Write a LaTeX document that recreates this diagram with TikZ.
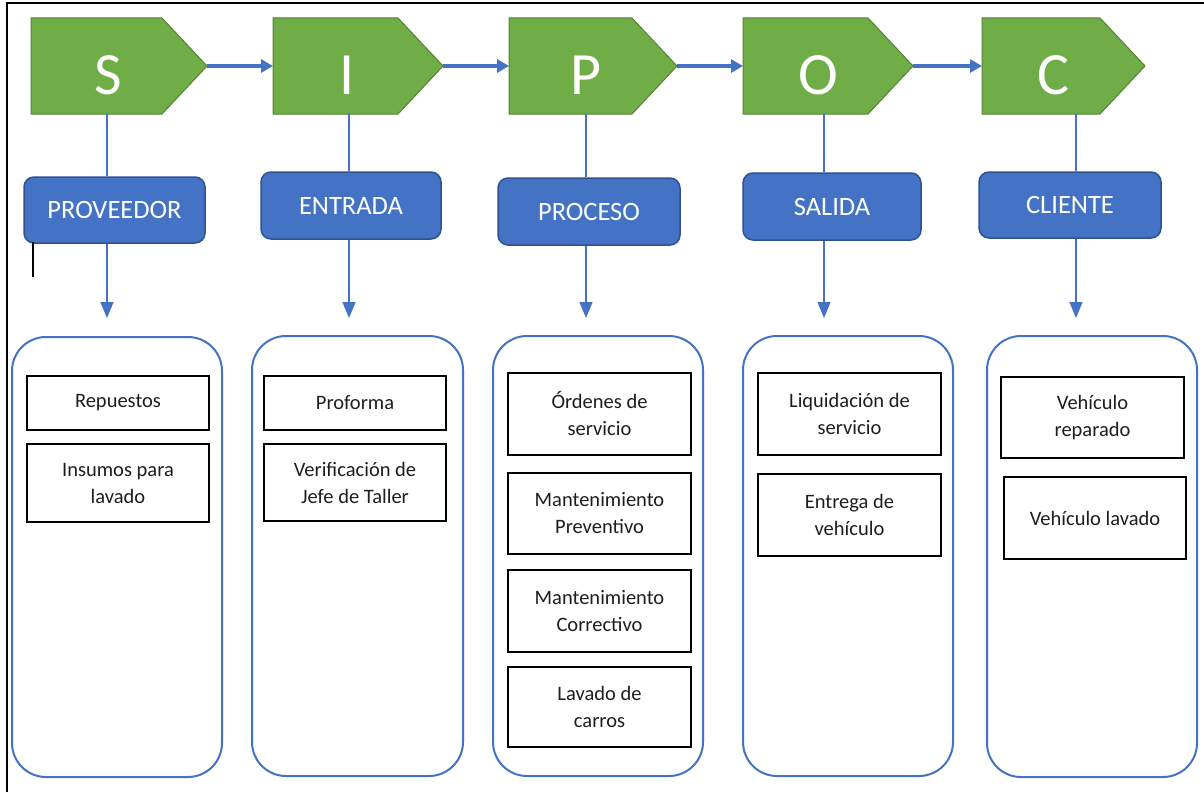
\documentclass[tikz,border=0pt]{standalone}
\usepackage{fontspec}
\setmainfont{Carlito}
\usetikzlibrary{arrows.meta}
\definecolor{sgreen}{HTML}{70AD47}
\definecolor{sgreendark}{HTML}{548235}
\definecolor{sblue}{HTML}{4472C4}
\definecolor{sbluedark}{HTML}{2F528F}
\definecolor{stext}{HTML}{1E1E1E}
\tikzset{
  letterbox/.style={fill=sgreen, draw=sgreendark, line width=1pt},
  bigletter/.style={text=white, font=\fontsize{60}{60}\selectfont, anchor=base, inner sep=0pt},
  rolebox/.style={fill=sblue, draw=sbluedark, line width=1.5pt, rounded corners=10pt,
    text=white, font=\fontsize{26.5}{30}\selectfont, text height=17pt, text depth=0pt, inner sep=0pt},
  lane/.style={draw=sblue, line width=2pt, rounded corners=34pt, inner sep=0pt},
  itembox/.style={draw=black, line width=2.5pt, text=stext, font=\fontsize{20.5}{27}\selectfont,
    align=center, inner sep=0pt},
  flow/.style={draw=sblue, line width=3.2pt, -{Triangle[length=12pt,width=13pt]}},
  link/.style={draw=sblue, line width=1.2pt},
  drop/.style={draw=sblue, line width=1.2pt, -{Triangle[length=16pt,width=13pt]}},
}
\begin{document}
\begin{tikzpicture}[x=1pt,y=-1pt]
\useasboundingbox (0,0) rectangle (1204,792);
\fill[white] (0,0) rectangle (1204,792);
% frame lines
\draw[line width=1.5pt] (7,792) -- (7,3) -- (1204,3);

% SIPOC header shapes
\draw[letterbox] (31,18) -- (162,18) -- (207,66) -- (162,114) -- (31,114) -- cycle;
\draw[letterbox] (273,18) -- (398,18) -- (443,66) -- (398,114) -- (273,114) -- cycle;
\draw[letterbox] (509,18) -- (632,18) -- (677,66) -- (632,114) -- (509,114) -- cycle;
\draw[letterbox] (743,18) -- (868,18) -- (913,66) -- (868,114) -- (743,114) -- cycle;
\draw[letterbox] (982,18) -- (1100,18) -- (1145,66) -- (1100,114) -- (982,114) -- cycle;
\node[bigletter] (ls) at (108,94) {S};
\node[bigletter] (li) at (347,94) {I};
\node[bigletter] (lp) at (586,94) {P};
\node[bigletter] (lo) at (818,94) {O};
\node[bigletter] (lc) at (1053,94) {C};
\coordinate (tipS) at (207,66); \coordinate (inI) at (273,66);
\coordinate (tipI) at (443,66); \coordinate (inP) at (509,66);
\coordinate (tipP) at (677,66); \coordinate (inO) at (743,66);
\coordinate (tipO) at (913,66); \coordinate (inC) at (982,66);
\draw[flow] (tipS) -- (inI);
\draw[flow] (tipI) -- (inP);
\draw[flow] (tipP) -- (inO);
\draw[flow] (tipO) -- (inC);

% stems under the header shapes
\coordinate (gS) at (107,114);
\coordinate (gI) at (349,114);
\coordinate (gP) at (586,114);
\coordinate (gO) at (824,114);
\coordinate (gC) at (1076,114);

% role boxes
\node[rolebox, minimum width=181pt, minimum height=66pt] (bS) at (114.5,210) {PROVEEDOR};
\node[rolebox, minimum width=180pt, minimum height=67pt] (bI) at (351,205.5) {ENTRADA};
\node[rolebox, minimum width=182pt, minimum height=67pt] (bP) at (589,211.5) {PROCESO};
\node[rolebox, minimum width=178pt, minimum height=67pt] (bO) at (832,206.5) {SALIDA};
\node[rolebox, minimum width=182pt, minimum height=66pt] (bC) at (1070,205) {CLIENTE};

\draw[link] (gS) -- (gS |- bS.north);
\draw[link] (gI) -- (gI |- bI.north);
\draw[link] (gP) -- (gP |- bP.north);
\draw[link] (gO) -- (gO |- bO.north);
\draw[link] (gC) -- (gC |- bC.north);

\coordinate (dS) at (107,318);
\coordinate (dI) at (349,318);
\coordinate (dP) at (586,318);
\coordinate (dO) at (824,318);
\coordinate (dC) at (1076,318);
\draw[drop] (dS |- bS.south) -- (dS);
\draw[drop] (dI |- bI.south) -- (dI);
\draw[drop] (dP |- bP.south) -- (dP);
\draw[drop] (dO |- bO.south) -- (dO);
\draw[drop] (dC |- bC.south) -- (dC);

% small dark mark under PROVEEDOR
\draw[line width=1.5pt] (33,242) -- (33,277);

% lanes
\node[lane, minimum width=210pt, minimum height=440pt] (nS) at (117,557) {};
\node[lane, minimum width=211pt, minimum height=440pt] (nI) at (357.5,556) {};
\node[lane, minimum width=210pt, minimum height=440pt] (nP) at (598,556) {};
\node[lane, minimum width=210pt, minimum height=440pt] (nO) at (848,556) {};
\node[lane, minimum width=210pt, minimum height=441pt] (nC) at (1092,556.5) {};

% items
\node[itembox, minimum width=182pt, minimum height=54pt] (s1) at (118,403) {Repuestos};
\node[itembox, minimum width=182pt, minimum height=78pt] (s2) at (118,483) {Insumos para\\lavado};

\node[itembox, minimum width=182pt, minimum height=54pt] (i1) at (355,403) {Proforma};
\node[itembox, minimum width=182pt, minimum height=77pt] (i2) at (355,482.5) {Verificación de\\Jefe de Taller};

\node[itembox, minimum width=183pt, minimum height=82pt] (p1) at (599.5,414) {Órdenes de\\servicio};
\node[itembox, minimum width=183pt, minimum height=81pt] (p2) at (599.5,513.5) {Mantenimiento\\Preventivo};
\node[itembox, minimum width=183pt, minimum height=82pt] (p3) at (599.5,611) {Mantenimiento\\Correctivo};
\node[itembox, minimum width=183pt, minimum height=80pt] (p4) at (599.5,707) {Lavado de\\carros};

\node[itembox, minimum width=183pt, minimum height=82pt] (o1) at (849.5,414) {Liquidación de\\servicio};
\node[itembox, minimum width=183pt, minimum height=82pt] (o2) at (849.5,515) {Entrega de\\vehículo};

\node[itembox, minimum width=183pt, minimum height=81pt] (c1) at (1092.5,417.5) {Vehículo\\reparado};
\node[itembox, minimum width=182pt, minimum height=82pt] (c2) at (1095,518) {Vehículo lavado};
\end{tikzpicture}
\end{document}
